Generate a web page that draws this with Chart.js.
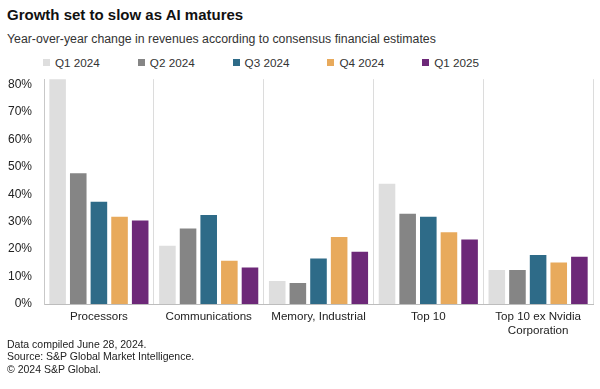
<!DOCTYPE html>
<html>
<head>
<meta charset="utf-8">
<script src="https://cdn.jsdelivr.net/npm/chart.js@4"></script>
<style>
  body { margin: 0; width: 600px; height: 389px; background: #fff; font-family: "Liberation Sans", Arial, sans-serif; color: #222; overflow: hidden; position: relative; }
  .title { position: absolute; left: 7px; top: 5px; font-size: 15px; font-weight: bold; line-height: 20px; color: #111; }
  .subtitle { position: absolute; left: 7px; top: 31px; font-size: 12.3px; line-height: 16px; color: #333; }
  .legend { position: absolute; left: 0; top: 55px; height: 16px; }
  .legend-item { position: absolute; top: 0; font-size: 11.7px; line-height: 16px; color: #333; white-space: nowrap; }
  .legend-item span.box { display: inline-block; width: 7px; height: 7px; margin-right: 5px; vertical-align: 1px; }
  .chart-wrap { position: absolute; left: 0; top: 60px; width: 600px; height: 282px; }
  .notes { position: absolute; left: 7px; top: 337.5px; font-size: 10.5px; line-height: 12.7px; color: #222; }
</style>
</head>
<body>
<div class="title">Growth set to slow as AI matures</div>
<div class="subtitle">Year-over-year change in revenues according to consensus financial estimates</div>
<div class="legend" id="legend"></div>
<div class="chart-wrap"><canvas id="chart"></canvas></div>
<div class="notes">Data compiled June 28, 2024.<br>Source: S&amp;P Global Market Intelligence.<br>© 2024 S&amp;P Global.</div>
<script>
const categories = ["Processors", "Communications", "Memory, Industrial", "Top 10", ["Top 10 ex Nvidia", "Corporation"]];
const seriesNames = ["Q1 2024", "Q2 2024", "Q3 2024", "Q4 2024", "Q1 2025"];
const seriesColors = ["#dedede", "#858585", "#2e6b88", "#e8aa5c", "#6d2878"];

// values in %, Processors Q1 2024 runs off the top of the axis
const q1_2024 = [95, 21.6, 8.8, 44.2, 12.8];
const q2_2024 = [48.1, 27.9, 8.0, 33.3, 12.8];
const q3_2024 = [37.7, 32.8, 17.0, 32.2, 18.2];
const q4_2024 = [32.2, 16.1, 24.8, 26.5, 15.5];
const q1_2025 = [30.8, 13.7, 19.4, 23.9, 17.6];
const seriesValues = [q1_2024, q2_2024, q3_2024, q4_2024, q1_2025];

const yTicks = [0, 10, 20, 30, 40, 50, 60, 70, 80];

const legend = document.getElementById("legend");
seriesNames.forEach((name, i) => {
  const item = document.createElement("div");
  item.className = "legend-item";
  item.style.left = `${43 + i * 94.8}px`;
  item.innerHTML = `<span class="box" style="background:${seriesColors[i]}"></span>${name}`;
  legend.appendChild(item);
});

new Chart(document.getElementById("chart"), {
  type: "bar",
  data: {
    labels: categories,
    datasets: seriesNames.map((name, i) => ({
      label: name,
      data: seriesValues[i],
      backgroundColor: seriesColors[i],
      borderColor: "rgba(255,255,255,0.55)",
      borderWidth: 1,
      categoryPercentage: 0.94,
      barPercentage: 0.9,
    })),
  },
  options: {
    responsive: true,
    maintainAspectRatio: false,
    animation: false,
    layout: { padding: { left: 0, right: 7, top: 0, bottom: 0 } },
    plugins: {
      legend: { display: false },
      tooltip: { enabled: false },
    },
    scales: {
      x: {
        grid: { display: true, offset: true, color: "#dcdcdc", drawTicks: false },
        border: { display: true, color: "#bdbdbd" },
        ticks: {
          color: "#222",
          padding: 6,
          maxRotation: 0,
          autoSkip: false,
          font: { family: "Liberation Sans", size: 11.6, lineHeight: 1.2 },
        },
        afterFit: (axis) => { axis.height = 38; },
      },
      y: {
        min: 0,
        max: 82,
        grid: { display: false, drawTicks: false },
        border: { display: true, color: "#c8c8c8" },
        ticks: {
          color: "#222",
          padding: 12,
          font: { family: "Liberation Sans", size: 12 },
          callback: (v) => `${v}%`,
        },
        afterBuildTicks: (axis) => {
          axis.ticks = yTicks.map((v) => ({ value: v }));
        },
        afterFit: (axis) => { axis.width = 44; },
      },
    },
  },
});
</script>
</body>
</html>
